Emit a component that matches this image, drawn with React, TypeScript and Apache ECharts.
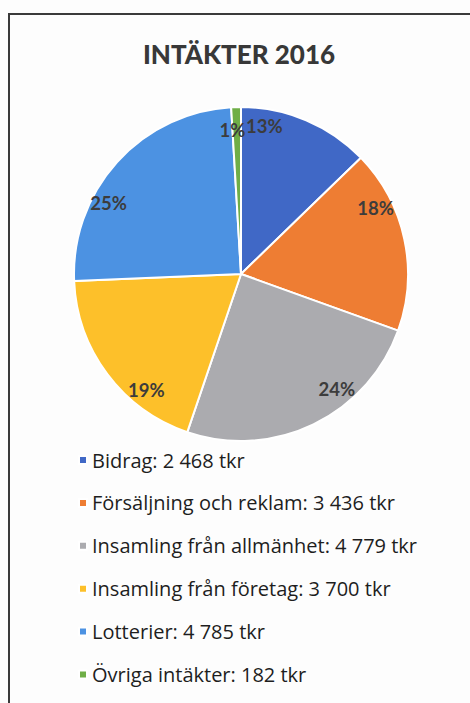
import React, { useEffect, useRef } from "react";
import * as echarts from "echarts";

const title = "INTÄKTER 2016";
const categories = [
  "Bidrag",
  "Försäljning och reklam",
  "Insamling från allmänhet",
  "Insamling från företag",
  "Lotterier",
  "Övriga intäkter",
];
const values = [2468, 3436, 4779, 3700, 4785, 182];
const colors = ["#4068C6", "#EE7D33", "#ABABAF", "#FDC02A", "#4C92E2", "#6FAE47"];
const unit = "tkr";

const fmt = (v: number) => String(v).replace(/\B(?=(\d{3})+(?!\d))/g, " ");

export default function App() {
  const ref = useRef<HTMLDivElement>(null);
  useEffect(() => {
    if (!ref.current) return;
    const chart = echarts.init(ref.current, undefined, { renderer: "svg" });
    const data = categories.map((name, i) => ({
      name,
      value: values[i],
      itemStyle: { color: colors[i] },
    }));
    const lookup: Record<string, number> = {};
    categories.forEach((c, i) => (lookup[c] = values[i]));
    chart.setOption({
      animation: false,
      backgroundColor: "#fdfdfd",
      title: {
        text: title,
        left: 234,
        textAlign: "center",
        top: 36,
        textStyle: {
          fontFamily: "Lato",
          fontWeight: 900,
          fontSize: 26,
          color: "#383838",
        },
      },
      legend: {
        orient: "vertical",
        left: 73,
        top: 445,
        itemWidth: 8,
        itemHeight: 8,
        itemGap: 22.9,
        icon: "rect",
        data: categories,
        formatter: (name: string) => `${name}: ${fmt(lookup[name])} ${unit}`,
        textStyle: {
          fontFamily: "Open Sans",
          fontSize: 20,
          lineHeight: 20,
          color: "#1e1e1e",
          padding: [0, 0, 0, 0],
        },
      },
      graphic: [
        {
          type: "rect",
          shape: { x: 9, y: 14, width: 470, height: 700 },
          style: { fill: "none", stroke: "#3a3a3a", lineWidth: 2 },
          silent: true,
        },
      ],
      series: [
        {
          type: "pie",
          center: [241, 274],
          radius: [0, 167],
          startAngle: 90,
          clockwise: true,
          percentPrecision: 0,
          label: { show: false },
          labelLine: { show: false },
          itemStyle: { borderColor: "#ffffff", borderWidth: 2 },
          data,
          silent: true,
        },
        {
          type: "pie",
          center: [241, 274],
          radius: [126, 168],
          startAngle: 104,
          clockwise: true,
          percentPrecision: 0,
          labelLine: { show: false },
          itemStyle: { color: "rgba(0,0,0,0)", borderWidth: 0 },
          label: {
            show: true,
            position: "inside",
            formatter: "{d}%",
            fontFamily: "Lato",
            fontWeight: "bold",
            fontSize: 18.5,
            color: "#3c3c3c",
          },
          data: categories.map((name, i) => ({
            name,
            value: values[i],
            label: i === 5 ? { offset: [32, 0] } : undefined,
          })),
          silent: true,
        },
      ],
    });
    return () => chart.dispose();
  }, []);
  return (
    <div
      ref={ref}
      style={{ position: "fixed", left: 0, top: 0, width: 470, height: 703 }}
    />
  );
}
